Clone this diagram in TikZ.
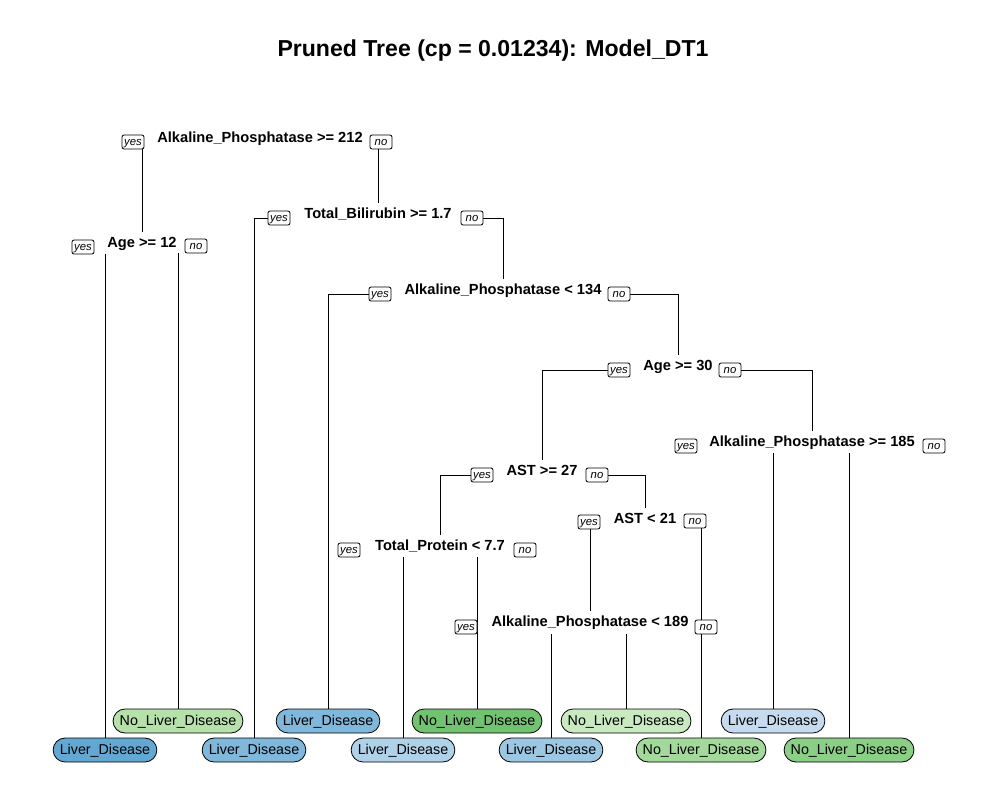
\documentclass[tikz,border=0pt]{standalone}
\usepackage{fontspec}
\setmainfont{Liberation Sans}
\usepackage{tikz}
\usetikzlibrary{backgrounds}
\definecolor{lvA}{HTML}{62A8D3}
\definecolor{lvB}{HTML}{7FB8DB}
\definecolor{lvC}{HTML}{B0D2E9}
\definecolor{lvD}{HTML}{9CC7E3}
\definecolor{lvE}{HTML}{C6DBEF}
\definecolor{nlA}{HTML}{B6E1AA}
\definecolor{nlB}{HTML}{72C371}
\definecolor{nlC}{HTML}{C9EAC1}
\definecolor{nlD}{HTML}{A3DA9C}
\definecolor{nlE}{HTML}{8BCF86}

\begin{document}
\begin{tikzpicture}[x=0.75pt,y=-0.75pt]
\tikzstyle{split}=[font=\fontsize{11}{13}\selectfont\bfseries,text height=9.5pt,text depth=1.5pt,inner sep=2pt];
\tikzstyle{yn}=[draw,fill=white,rounded corners=1.5pt,font=\fontsize{8.5}{10}\selectfont\itshape,text height=6.6pt,text depth=1.8pt,inner xsep=1.5pt,inner ysep=1pt,minimum width=16.5pt,line width=0.6pt];
\tikzstyle{leaf}=[draw,rounded corners=9pt,font=\fontsize{10.7}{12}\selectfont,text height=8.5pt,text depth=1.5pt,inner xsep=5pt,minimum height=18pt,line width=0.6pt];
\tikzstyle{branch}=[line width=0.75pt];
\useasboundingbox (0,0) rectangle (987,811);
\path (493,51) node[font=\fontsize{17.3}{20}\selectfont\bfseries] (title) {Pruned Tree (cp = 0.01234): Model\_DT1};
% splits
\path (260,137) node[split] (root) {Alkaline\_Phosphatase >= 212};
\path (142,242) node[split] (age12) {Age >= 12};
\path (378,213) node[split] (bili) {Total\_Bilirubin >= 1.7};
\path (503,289) node[split] (alk134) {Alkaline\_Phosphatase < 134};
\path (678,365) node[split] (age30) {Age >= 30};
\path (812,441) node[split] (alk185) {Alkaline\_Phosphatase >= 185};
\path (542,470) node[split] (ast27) {AST >= 27};
\path (645,518) node[split] (ast21) {AST < 21};
\path (440,545) node[split] (prot) {Total\_Protein < 7.7};
\path (590,621) node[split] (alk189) {Alkaline\_Phosphatase < 189};
% yes / no
\path (133,142) node[yn] (rooty) {yes};
\path (381,142) node[yn] (rootn) {no};
\path (83,247) node[yn] (age12y) {yes};
\path (196,246) node[yn] (age12n) {no};
\path (279,218) node[yn] (biliy) {yes};
\path (472,218) node[yn] (bilin) {no};
\path (380,294) node[yn] (alk134y) {yes};
\path (619,294) node[yn] (alk134n) {no};
\path (619,370) node[yn] (age30y) {yes};
\path (730,370) node[yn] (age30n) {no};
\path (686,446) node[yn] (alk185y) {yes};
\path (934,446) node[yn] (alk185n) {no};
\path (482,475) node[yn] (ast27y) {yes};
\path (597,475) node[yn] (ast27n) {no};
\path (589,522) node[yn] (ast21y) {yes};
\path (695,521) node[yn] (ast21n) {no};
\path (349,550) node[yn] (proty) {yes};
\path (525,550) node[yn] (protn) {no};
\path (466,627) node[yn] (alk189y) {yes};
\path (706,627) node[yn] (alk189n) {no};
% leaves
\path (105,750) node[leaf,fill=lvA] (lf1) {Liver\_Disease};
\path (178,721) node[leaf,fill=nlA] (lf2) {No\_Liver\_Disease};
\path (254,750) node[leaf,fill=lvB] (lf3) {Liver\_Disease};
\path (328,721) node[leaf,fill=lvB] (lf4) {Liver\_Disease};
\path (403,750) node[leaf,fill=lvC] (lf5) {Liver\_Disease};
\path (477,721) node[leaf,fill=nlB] (lf6) {No\_Liver\_Disease};
\path (551,750) node[leaf,fill=lvD] (lf7) {Liver\_Disease};
\path (626,721) node[leaf,fill=nlC] (lf8) {No\_Liver\_Disease};
\path (701,750) node[leaf,fill=nlD] (lf9) {No\_Liver\_Disease};
\path (773,721) node[leaf,fill=lvE] (lf10) {Liver\_Disease};
\path (849,750) node[leaf,fill=nlE] (lf11) {No\_Liver\_Disease};
% branches
\begin{scope}[on background layer]
\draw[branch] (age12.north) -- (age12.north |- rooty.south);
\draw[branch] (bili.north) -- (bili.north |- rootn.south);
\draw[branch] (lf1.north) -- (lf1.north |- age12y.south);
\draw[branch] (lf2.north) -- (lf2.north |- age12n.south);
\draw[branch] (biliy.west) -| (lf3.north);
\draw[branch] (bilin.east) -| (alk134.north);
\draw[branch] (alk134y.west) -| (lf4.north);
\draw[branch] (alk134n.east) -| (age30.north);
\draw[branch] (age30y.west) -| (ast27.north);
\draw[branch] (age30n.east) -| (alk185.north);
\draw[branch] (lf10.north) -- (lf10.north |- alk185y.south);
\draw[branch] (lf11.north) -- (lf11.north |- alk185n.south);
\draw[branch] (ast27y.west) -| (prot.north);
\draw[branch] (ast27n.east) -| (ast21.north);
\draw[branch] (alk189.north) -- (alk189.north |- ast21y.south);
\draw[branch] (lf9.north) -- (lf9.north |- ast21n.south);
\draw[branch] (lf5.north) -- (lf5.north |- proty.south);
\draw[branch] (lf6.north) -- (lf6.north |- protn.south);
\draw[branch] (lf7.north) -- (lf7.north |- alk189y.south);
\draw[branch] (lf8.north) -- (lf8.north |- alk189n.south);
\end{scope}
\end{tikzpicture}
\end{document}
